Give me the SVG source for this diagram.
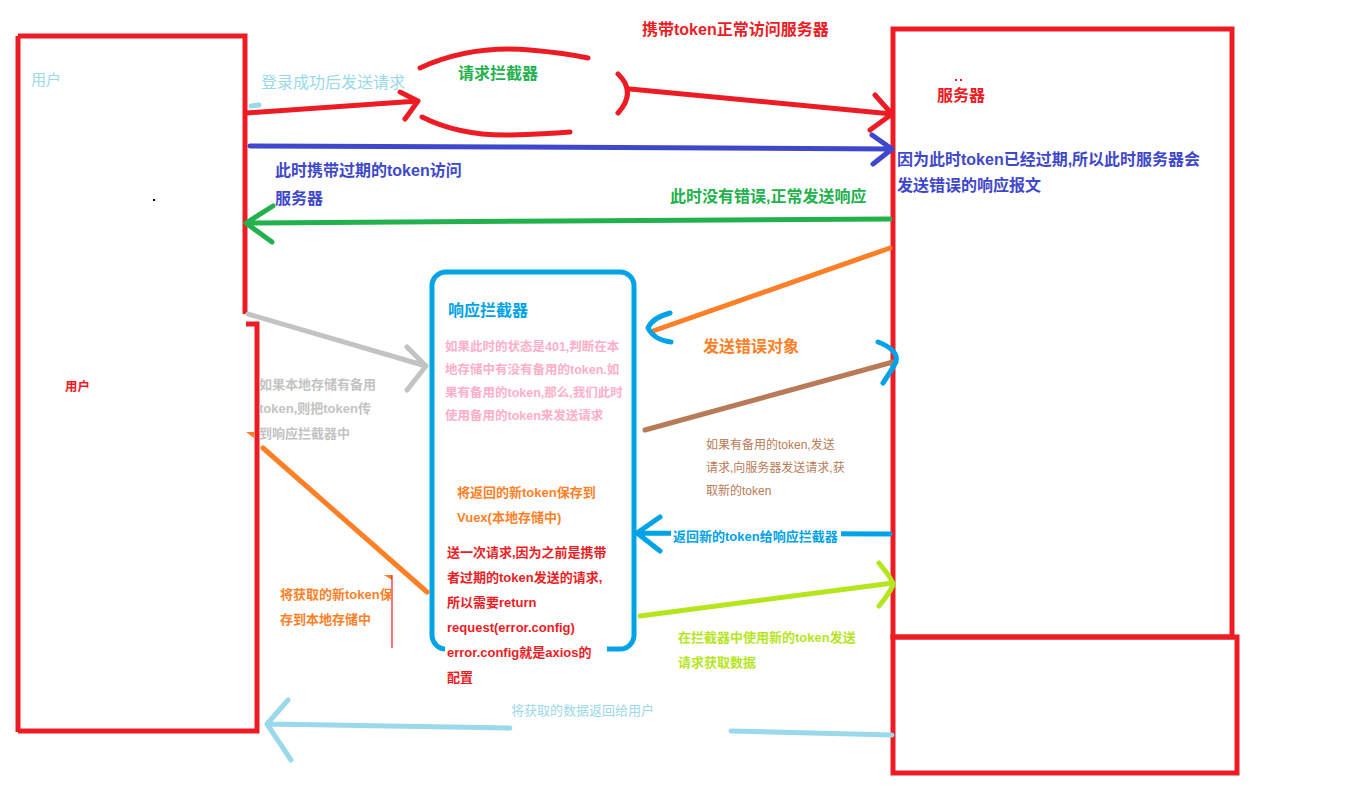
<svg xmlns="http://www.w3.org/2000/svg" width="1360" height="790" viewBox="0 0 1360 790">
<style>
text{font-family:"Liberation Sans","Noto Sans CJK SC",sans-serif;}
.b{font-weight:bold;}
.f16{font-size:16px;}
.f13{font-size:13px;}
.box{fill:none;stroke:#ED1C24;stroke-width:5;}
.ln{fill:none;stroke-width:5;stroke-linecap:round;stroke-linejoin:round;}
</style>
<rect width="1360" height="790" fill="#ffffff"/>

<g id="user-top">
  <path class="box" d="M18,36 H245 V314 M18,36 V732"/>
  <text x="31" y="85" font-size="15" fill="#99D9EA">用户</text>
  <rect x="153" y="199" width="2" height="2" fill="#000"/>
</g>

<g id="user-bottom">
  <path class="box" d="M18,731 H257 V324 H246"/>
  <text x="65" y="391" font-size="12.5" class="b" fill="#ED1C24">用户</text>
</g>

<g id="server">
  <path class="box" d="M893,29 H1232 V637 H893 Z"/>
  <rect x="955" y="79" width="2" height="2" fill="#ED1C24"/>
  <rect x="960" y="79" width="2" height="2" fill="#ED1C24"/>
  <text x="937" y="101" class="f16 b" fill="#ED1C24">服务器</text>
  <text x="897" y="165" class="f16 b" fill="#3F48CC">因为此时token已经过期,所以此时服务器会</text>
  <text x="897" y="191" class="f16 b" fill="#3F48CC">发送错误的响应报文</text>
</g>

<g id="server-bottom">
  <path class="box" d="M893,637 H1237 V773 H893 Z"/>
</g>

<g id="request-interceptor">
  <path class="ln" stroke="#ED1C24" d="M420,68 Q470,45 530,50 Q565,53 588,58 M422,117 Q460,136 510,135 Q545,134 570,132 M618,74 Q637,92 618,113"/>
  <text x="458" y="79" class="f16 b" fill="#22B14C">请求拦截器</text>
</g>

<g id="response-interceptor">
  <rect x="432" y="272" width="202" height="377" rx="14" fill="none" stroke="#00A2E8" stroke-width="5"/>
  <text x="448" y="316" class="f16 b" fill="#00A2E8">响应拦截器</text>
  <g font-size="12.5" class="b" fill="#FFAEC9">
    <text x="445" y="351">如果此时的状态是401,判断在本</text>
    <text x="445" y="374">地存储中有没有备用的token.如</text>
    <text x="445" y="397">果有备用的token,那么,我们此时</text>
    <text x="445" y="420">使用备用的token来发送请求</text>
  </g>
  <g class="f13 b" fill="#FF7F27">
    <text x="457" y="497">将返回的新token保存到</text>
    <text x="457" y="522">Vuex(本地存储中)</text>
  </g>
  <rect x="445" y="640" width="162" height="48" fill="#ffffff"/>
  <g class="f13 b" fill="#ED1C24">
    <text x="447" y="557">送一次请求,因为之前是携带</text>
    <text x="447" y="582">者过期的token发送的请求,</text>
    <text x="447" y="607">所以需要return</text>
    <text x="447" y="632">request(error.config)</text>
    <text x="447" y="657">error.config就是axios的</text>
    <text x="447" y="682">配置</text>
  </g>
</g>

<g id="connectors">
  <path d="M251,106 L259,105" stroke="#99D9EA" stroke-width="5" stroke-linecap="round"/>
  <path class="ln" stroke="#ED1C24" d="M247,113 L418,101 M400,92 L418,101 L405,119"/>
  <path class="ln" stroke="#ED1C24" d="M630,89 L892,114 M875,95 L892,114 L870,130"/>
  <path class="ln" stroke="#3F48CC" d="M250,146 L520,147 L892,149 M872,135 L892,149 L873,164"/>
  <path class="ln" stroke="#22B14C" d="M890,219 L560,221 L246,223 M273,206 L246,223 L272,242"/>
  <path class="ln" stroke="#C3C3C3" d="M248,314 L426,366 M407,347 L426,366 L407,390"/>
  <path class="ln" stroke="#FF7F27" d="M890,248 L653,331"/>
  <path class="ln" stroke="#00A2E8" d="M670,313 Q652,318 648,328 Q654,340 671,342"/>
  <path class="ln" stroke="#B97A57" d="M645,430 L893,362"/>
  <path class="ln" stroke="#00A2E8" d="M878,342 Q899,350 896,362 Q890,373 883,383"/>
  <path class="ln" stroke="#00A2E8" d="M890,534 L637,533 M660,517 L637,533 L660,551"/>
  <path class="ln" stroke="#B5E61D" d="M640,616 L893,583 M879,563 Q893,580 893,585 Q889,594 879,606"/>
  <path class="ln" stroke="#FF7F27" d="M263,448 L427,592"/>
  <path d="M246,432 L254,432 L254,438 Z" fill="#FF7F27"/>
  <path d="M384,575 L392,575 L392,580 Z" fill="#FF7F27"/>
  <path d="M392,575 V648" stroke="#ED1C24" stroke-width="1.2"/>
  <path class="ln" stroke="#99D9EA" d="M268,724 L510,728 M731,731 L892,735 M288,700 L267,724 L291,760"/>
</g>

<g id="labels">
  <text x="261" y="88" class="f16" fill="#99D9EA">登录成功后发送请求</text>
  <text x="642" y="35" class="f16 b" fill="#ED1C24">携带token正常访问服务器</text>
  <text x="275" y="176" class="f16 b" fill="#3F48CC">此时携带过期的token访问</text>
  <text x="275" y="204" class="f16 b" fill="#3F48CC">服务器</text>
  <text x="670" y="202" class="f16 b" fill="#22B14C">此时没有错误,正常发送响应</text>
  <g class="f13 b" fill="#C3C3C3">
    <text x="259" y="389">如果本地存储有备用</text>
    <text x="259" y="413">token,则把token传</text>
    <text x="259" y="438">到响应拦截器中</text>
  </g>
  <text x="703" y="352" class="f16 b" fill="#FF7F27">发送错误对象</text>
  <g font-size="12" fill="#B97A57">
    <text x="706" y="449">如果有备用的token,发送</text>
    <text x="706" y="472">请求,向服务器发送请求,获</text>
    <text x="706" y="495">取新的token</text>
  </g>
  <rect x="671" y="527" width="170" height="18" fill="#ffffff"/>
  <text x="673" y="541" class="f13 b" fill="#00A2E8">返回新的token给响应拦截器</text>
  <g class="f13 b" fill="#B5E61D">
    <text x="678" y="642">在拦截器中使用新的token发送</text>
    <text x="678" y="667">请求获取数据</text>
  </g>
  <g class="f13 b" fill="#FF7F27">
    <text x="280" y="599">将获取的新token保</text>
    <text x="280" y="624">存到本地存储中</text>
  </g>
  <text x="511" y="715" class="f13" fill="#99D9EA">将获取的数据返回给用户</text>
</g>
</svg>
